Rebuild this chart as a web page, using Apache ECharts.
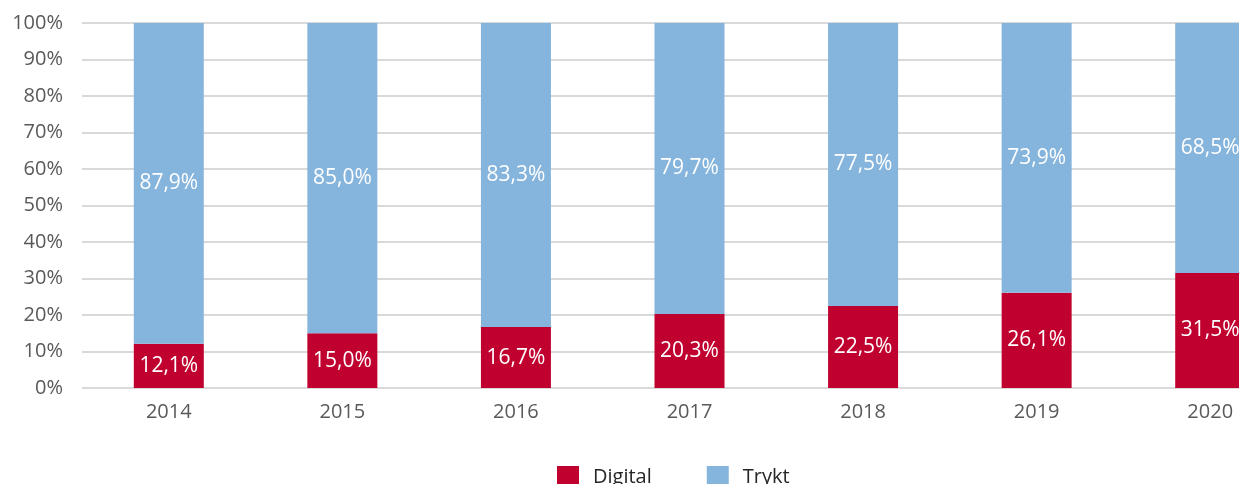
<!DOCTYPE html>
<html>
<head>
<meta charset="utf-8">
<script src="https://cdn.jsdelivr.net/npm/echarts@6/dist/echarts.min.js"></script>
<style>
  html, body { margin: 0; padding: 0; background: #fff; }
  #main { width: 1239px; height: 484px; }
</style>
</head>
<body>
<div id="main"></div>
<script>
var years = ['2014', '2015', '2016', '2017', '2018', '2019', '2020'];
var digital = [12.1, 15.0, 16.7, 20.3, 22.5, 26.1, 31.5];
var trykt = [87.9, 85.0, 83.3, 79.7, 77.5, 73.9, 68.5];

var chart = echarts.init(document.getElementById('main'));

function pct(p) {
  return p.value.toFixed(1).replace('.', ',') + '%';
}

var font = 'Open Sans';

chart.setOption({
  animation: false,
  // grid runs past the right edge so the 2020 bar is cut off like the original
  grid: { left: 82, width: 1215, top: 23, height: 365, outerBoundsMode: 'none' },
  legend: {
    left: 552,
    top: 461,
    itemWidth: 22,
    itemHeight: 22,
    itemGap: 55,
    icon: 'rect',
    textStyle: { fontFamily: font, fontSize: 20, color: '#262626', padding: [0, 0, 0, 9] },
    data: ['Digital', 'Trykt']
  },
  xAxis: {
    type: 'category',
    data: years,
    axisLine: { show: false },
    axisTick: { show: false },
    axisLabel: { fontFamily: font, fontSize: 20, color: '#595959', margin: 14 }
  },
  yAxis: {
    type: 'value',
    min: 0,
    max: 100,
    interval: 10,
    axisLine: { show: false },
    axisTick: { show: false },
    axisLabel: { formatter: '{value}%', fontFamily: font, fontSize: 20, color: '#595959', margin: 19 },
    splitLine: { lineStyle: { color: '#d9d9d9', width: 2 } }
  },
  series: [
    {
      name: 'Digital',
      type: 'bar',
      stack: 'total',
      barWidth: 70,
      data: digital,
      itemStyle: { color: '#c0002f' },
      label: { show: true, position: 'inside', formatter: pct, color: '#fff', fontFamily: font, fontSize: 21 }
    },
    {
      name: 'Trykt',
      type: 'bar',
      stack: 'total',
      barWidth: 70,
      data: trykt,
      itemStyle: { color: '#85b4dd' },
      label: { show: true, position: 'inside', formatter: pct, color: '#fff', fontFamily: font, fontSize: 21 }
    }
  ]
});
</script>
</body>
</html>
